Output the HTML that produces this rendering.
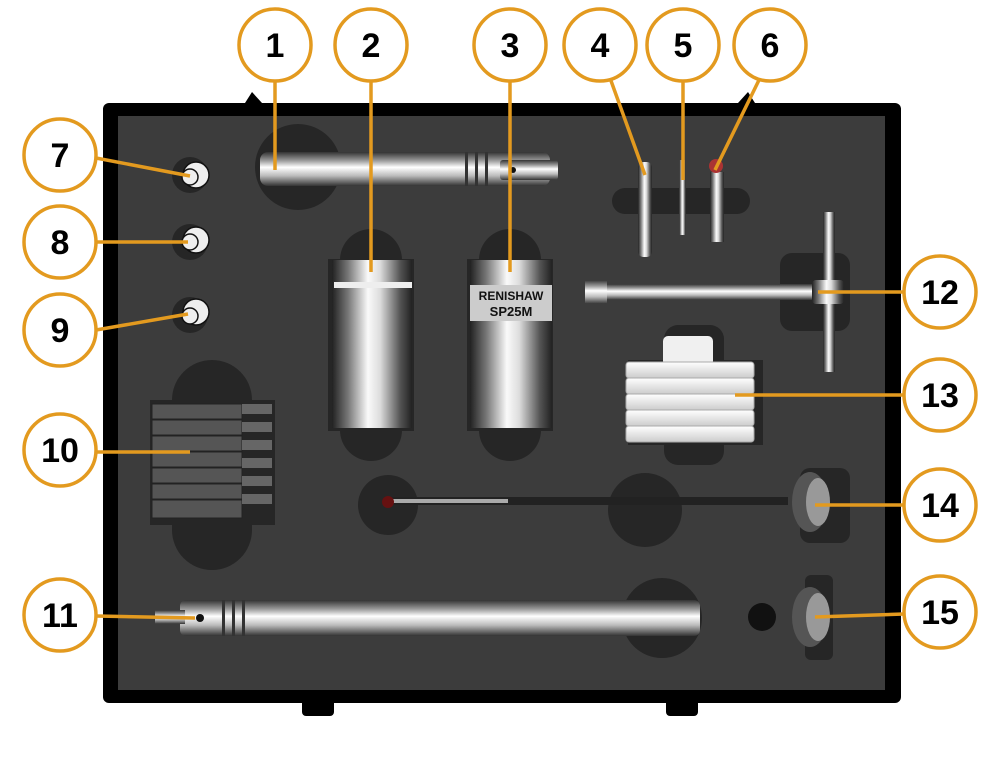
<!DOCTYPE html>
<html><head><style>
html,body{margin:0;padding:0;background:#fff;width:1000px;height:758px;overflow:hidden}
</style></head><body>
<svg width="1000" height="758" viewBox="0 0 1000 758" xmlns="http://www.w3.org/2000/svg" font-family="Liberation Sans, sans-serif">
<defs>
<linearGradient id="cv" x1="0" y1="0" x2="1" y2="0">
<stop offset="0" stop-color="#222"/><stop offset="0.2" stop-color="#777"/><stop offset="0.45" stop-color="#fafafa"/><stop offset="0.6" stop-color="#ddd"/><stop offset="0.85" stop-color="#555"/><stop offset="1" stop-color="#222"/></linearGradient>
<linearGradient id="ch" x1="0" y1="0" x2="0" y2="1">
<stop offset="0" stop-color="#333"/><stop offset="0.25" stop-color="#999"/><stop offset="0.45" stop-color="#fff"/><stop offset="0.7" stop-color="#bbb"/><stop offset="1" stop-color="#333"/></linearGradient>
<linearGradient id="wh" x1="0" y1="0" x2="0" y2="1">
<stop offset="0" stop-color="#fff"/><stop offset="1" stop-color="#ccc"/></linearGradient>
</defs>
<!-- case -->
<path d="M245 103 L252 92 L262 103 Z" fill="#000"/>
<path d="M738 103 L748 92 L755 103 Z" fill="#000"/>
<rect x="302" y="690" width="32" height="26" rx="4" fill="#000"/>
<rect x="666" y="690" width="32" height="26" rx="4" fill="#000"/>
<rect x="103" y="103" width="798" height="600" rx="6" fill="#000"/>
<rect x="118" y="116" width="767" height="574" fill="#3c3c3c"/>
<g fill="#262626">
<!-- cutouts -->
<circle cx="298" cy="167" r="43"/>
<circle cx="645" cy="510" r="37" />
<circle cx="388" cy="505" r="30"/>
<path d="M340 260 A31 31 0 0 1 402 260 Z"/><path d="M340 430 A31 31 0 0 0 402 430 Z"/>
<path d="M479 260 A31 31 0 0 1 541 260 Z"/><path d="M479 430 A31 31 0 0 0 541 430 Z"/>
<rect x="328" y="259" width="86" height="172"/>
<rect x="467" y="259" width="86" height="172"/>
<rect x="172" y="360" width="80" height="210" rx="40"/>
<rect x="150" y="400" width="125" height="125"/>
<circle cx="662" cy="618" r="40"/>
<rect x="612" y="188" width="138" height="26" rx="13"/>
<rect x="780" y="253" width="70" height="78" rx="12"/>
<rect x="664" y="325" width="60" height="140" rx="14"/>
<rect x="628" y="360" width="135" height="85"/>
<rect x="800" y="468" width="50" height="75" rx="10"/>
<rect x="805" y="575" width="28" height="85" rx="6"/>
<circle cx="190" cy="175" r="18"/><circle cx="190" cy="242" r="18"/><circle cx="190" cy="315" r="18"/>
</g>
<!-- 1 -->
<rect x="260" y="152" width="290" height="34" rx="8" fill="url(#ch)"/>
<rect x="465" y="152" width="3" height="34" fill="#333"/><rect x="475" y="152" width="3" height="34" fill="#333"/><rect x="485" y="152" width="3" height="34" fill="#333"/>
<rect x="500" y="160" width="58" height="20" rx="3" fill="url(#ch)"/>
<circle cx="513" cy="170" r="3" fill="#111"/>
<!-- 2,3 -->
<rect x="332" y="260" width="80" height="168" fill="url(#cv)"/>
<rect x="334" y="282" width="78" height="6" fill="#eee"/>
<rect x="470" y="260" width="82" height="168" fill="url(#cv)"/>
<rect x="470" y="285" width="82" height="36" fill="#ccc"/>
<text x="511" y="300" font-size="12" font-weight="bold" text-anchor="middle" fill="#111">RENISHAW</text>
<text x="511" y="316" font-size="13" font-weight="bold" text-anchor="middle" fill="#111">SP25M</text>
<!-- small items 7-9 -->
<g fill="#eee" stroke="#111" stroke-width="1.5">
<circle cx="196" cy="175" r="13"/><circle cx="190" cy="177" r="8"/>
<circle cx="196" cy="240" r="13"/><circle cx="190" cy="242" r="8"/>
<circle cx="196" cy="312" r="13"/><circle cx="190" cy="316" r="8"/>
</g>
<!-- 4,5,6 -->
<rect x="638" y="162" width="14" height="95" rx="5" fill="url(#cv)"/>
<rect x="679" y="160" width="7" height="75" fill="url(#cv)"/>
<rect x="710" y="172" width="14" height="70" fill="url(#cv)"/>
<circle cx="716" cy="166" r="7" fill="#a33"/>
<!-- 10 -->
<g fill="#555" stroke="#222">
<rect x="152" y="404" width="90" height="15"/><rect x="152" y="420" width="90" height="15"/><rect x="152" y="436" width="90" height="15"/><rect x="152" y="452" width="90" height="15"/><rect x="152" y="468" width="90" height="15"/><rect x="152" y="484" width="90" height="15"/><rect x="152" y="500" width="90" height="18"/>
</g>
<g fill="#666"><rect x="242" y="404" width="30" height="10"/><rect x="242" y="422" width="30" height="10"/><rect x="242" y="440" width="30" height="10"/><rect x="242" y="458" width="30" height="10"/><rect x="242" y="476" width="30" height="10"/><rect x="242" y="494" width="30" height="10"/></g>
<!-- 11 -->
<rect x="180" y="600" width="520" height="36" rx="6" fill="url(#ch)"/>
<rect x="155" y="610" width="30" height="14" fill="url(#ch)"/>
<circle cx="200" cy="618" r="4" fill="#111"/>
<rect x="222" y="600" width="3" height="36" fill="#333"/><rect x="232" y="600" width="3" height="36" fill="#333"/><rect x="242" y="600" width="3" height="36" fill="#333"/>
<!-- 12 -->
<rect x="585" y="284" width="255" height="16" rx="4" fill="url(#ch)"/>
<rect x="585" y="280" width="22" height="24" fill="url(#ch)"/>
<rect x="823" y="212" width="12" height="160" fill="url(#cv)"/>
<rect x="812" y="280" width="32" height="24" rx="4" fill="url(#cv)"/>
<!-- 13 -->
<rect x="663" y="336" width="50" height="30" rx="5" fill="#f0f0f0"/>
<g fill="url(#wh)" stroke="#aaa">
<rect x="626" y="362" width="128" height="16" rx="3"/><rect x="626" y="378" width="128" height="16" rx="3"/><rect x="626" y="394" width="128" height="16" rx="3"/><rect x="626" y="410" width="128" height="16" rx="3"/><rect x="626" y="426" width="128" height="16" rx="3"/>
</g>
<!-- 14 -->
<rect x="388" y="497" width="400" height="8" fill="#222"/>
<rect x="388" y="499" width="120" height="4" fill="#aaa"/>
<circle cx="388" cy="502" r="6" fill="#611"/>
<ellipse cx="810" cy="502" rx="18" ry="30" fill="#555"/>
<ellipse cx="818" cy="502" rx="12" ry="24" fill="#999"/>
<!-- 15 -->
<circle cx="762" cy="617" r="14" fill="#111"/>
<ellipse cx="810" cy="617" rx="18" ry="30" fill="#555"/>
<ellipse cx="818" cy="617" rx="12" ry="24" fill="#999"/>
<!-- leaders -->
<g stroke="#E39A1F" stroke-width="3.5" fill="none">
<line x1="275" y1="81" x2="275" y2="170"/>
<line x1="371" y1="81" x2="371" y2="272"/>
<line x1="510" y1="81" x2="510" y2="272"/>
<line x1="610" y1="78" x2="645" y2="175"/>
<line x1="683" y1="81" x2="683" y2="180"/>
<line x1="760" y1="78" x2="715" y2="170"/>
<line x1="96" y1="158" x2="190" y2="176"/>
<line x1="96" y1="242" x2="188" y2="242"/>
<line x1="96" y1="330" x2="188" y2="314"/>
<line x1="96" y1="452" x2="190" y2="452"/>
<line x1="96" y1="616" x2="195" y2="618"/>
<line x1="904" y1="292" x2="818" y2="292"/>
<line x1="904" y1="395" x2="735" y2="395"/>
<line x1="904" y1="505" x2="815" y2="505"/>
<line x1="904" y1="614" x2="815" y2="617"/>
</g>
<g stroke="#E39A1F" stroke-width="3.5" fill="#fff">
<circle cx="275" cy="45" r="36"/><circle cx="371" cy="45" r="36"/><circle cx="510" cy="45" r="36"/>
<circle cx="600" cy="45" r="36"/><circle cx="683" cy="45" r="36"/><circle cx="770" cy="45" r="36"/>
<circle cx="60" cy="155" r="36"/><circle cx="60" cy="242" r="36"/><circle cx="60" cy="330" r="36"/>
<circle cx="60" cy="450" r="36"/><circle cx="60" cy="615" r="36"/>
<circle cx="940" cy="292" r="36"/><circle cx="940" cy="395" r="36"/><circle cx="940" cy="505" r="36"/><circle cx="940" cy="612" r="36"/>
</g>
<g font-size="34" font-weight="bold" text-anchor="middle" fill="#000">
<text x="275" y="57">1</text><text x="371" y="57">2</text><text x="510" y="57">3</text>
<text x="600" y="57">4</text><text x="683" y="57">5</text><text x="770" y="57">6</text>
<text x="60" y="167">7</text><text x="60" y="254">8</text><text x="60" y="342">9</text>
<text x="60" y="462">10</text><text x="60" y="627">11</text>
<text x="940" y="304">12</text><text x="940" y="407">13</text><text x="940" y="517">14</text><text x="940" y="624">15</text>
</g>
</svg>
</body></html>
